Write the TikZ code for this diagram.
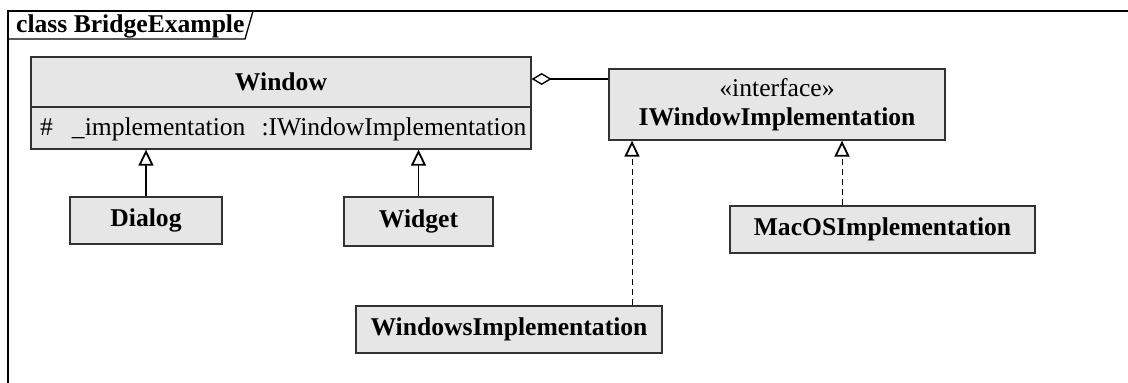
\documentclass[tikz,border=0pt]{standalone}
\usepackage{fontspec}
\setmainfont{Liberation Serif}
\usetikzlibrary{arrows.meta}
\definecolor{boxfill}{RGB}{230,230,230}
\definecolor{boxline}{RGB}{50,50,50}
\begin{document}
\begin{tikzpicture}[x=1pt,y=-1pt,
  cls/.style={draw=boxline, fill=boxfill, line width=1.3pt, rectangle, inner sep=0pt, align=center, font=\fontsize{25.6}{28.5}\selectfont\bfseries},
  gen/.style={draw=black, line width=1.2pt, -{Triangle[open,length=16pt,width=15pt,line width=1.8pt]}},
  real/.style={draw=black, line width=1pt, dash pattern=on 6pt off 4pt, -{Triangle[open,length=16pt,width=15pt,line width=1.8pt]}},
  agg/.style={draw=black, line width=1.2pt, {Diamond[open,length=20pt,width=12pt,line width=1.4pt]}-},
  lbl/.style={inner sep=0pt, font=\fontsize{25.6}{28.5}\selectfont}]
\useasboundingbox (0,0) rectangle (1128,383);
\fill[white] (0,0) rectangle (1128,383);
% frame
\draw[line width=1.5pt] (8,383) -- (8,11) -- (1128,11);
\draw[line width=1.3pt] (8,39) -- (245,39) -- (253,11);
\node[lbl, anchor=base west, font=\fontsize{25.6}{28.5}\selectfont\bfseries] (title) at (16,32) {class BridgeExample};
% Window
\node[cls, minimum width=500, minimum height=50] (wtitle) at (281,82) {Window};
\node[cls, minimum width=500, minimum height=42] (wattr) at (281,128) {};
\node[lbl, anchor=west] (attr) at (40,129) {\#\hspace{19pt}\_implementation\hspace{16pt}:IWindowImplementation};
% interface
\node[cls, minimum width=336, minimum height=71] (iwin) at (777,104.5) {{\mdseries «interface»}\\IWindowImplementation};
% subclasses
\node[cls, minimum width=152, minimum height=47] (dialog) at (146,220.5) {Dialog};
\node[cls, minimum width=149, minimum height=49] (widget) at (418.5,221.5) {Widget};
\node[cls, minimum width=306, minimum height=47] (winimpl) at (509,329.5) {WindowsImplementation};
\node[cls, minimum width=305, minimum height=47] (macimpl) at (882.5,229.5) {MacOSImplementation};
% connectors
\draw[gen] (dialog.north) -- (dialog.north |- wattr.south);
\draw[gen] (widget.north) -- (widget.north |- wattr.south);
\draw[real] ([xshift=123]winimpl.north) -- ([xshift=123]winimpl.north |- iwin.south);
\draw[real] ([xshift=-40.5]macimpl.north) -- ([xshift=-40.5]macimpl.north |- iwin.south);
\draw[agg] ([yshift=3]wtitle.east) -- ([yshift=3]iwin.west |- wtitle.east);
\end{tikzpicture}
\end{document}
